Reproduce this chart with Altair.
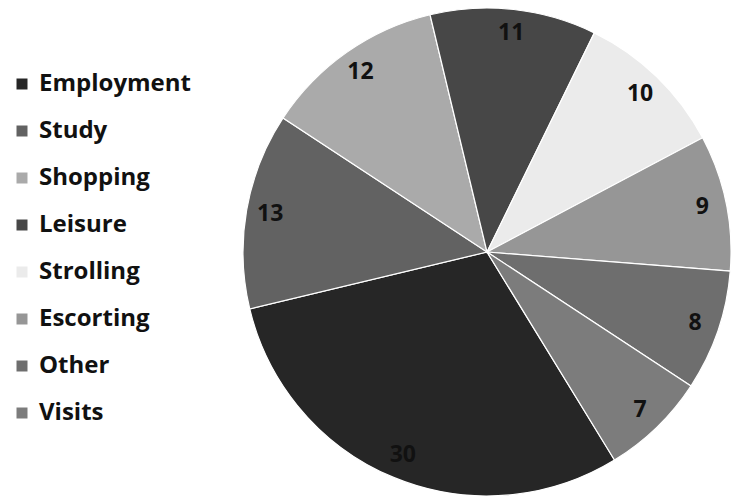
import math
import altair as alt
import pandas as pd

categories = ["Employment", "Study", "Shopping", "Leisure", "Strolling", "Escorting", "Other", "Visits"]
values = [30, 13, 12, 11, 10, 9, 8, 7]
colors = ["#262626", "#626262", "#aaaaaa", "#474747", "#ebebeb", "#969696", "#6e6e6e", "#7c7c7c"]

df = pd.DataFrame({"category": categories, "value": values, "idx": list(range(len(categories)))})

start = math.radians(148.5)
theta_scale = alt.Scale(range=[start, start + 2 * math.pi])

base = alt.Chart(df).encode(
    theta=alt.Theta("value:Q", stack=True, scale=theta_scale),
    order=alt.Order("idx:Q"),
    x=alt.value(487),
    y=alt.value(252),
)

pie = base.mark_arc(radius=244, stroke="white", strokeWidth=1.2).encode(
    color=alt.Color(
        "category:N",
        scale=alt.Scale(domain=categories, range=colors),
        sort=None,
        legend=alt.Legend(
            title=None,
            orient="none",
            legendX=10,
            legendY=72,
            symbolType="square",
            symbolSize=121,
            symbolStrokeWidth=0,
            labelFont="Open Sans",
            labelFontWeight="bold",
            labelFontSize=24,
            labelColor="#111111",
            labelOffset=5,
            rowPadding=23,
            labelLimit=300,
        ),
    )
)

labels = base.mark_text(
    radius=220, font="Open Sans", fontWeight="bold", fontSize=23, color="#111111"
).encode(
    text="value:Q",
    detail="category:N",
)

chart = (
    alt.layer(pie, labels)
    .properties(width=731, height=497, padding=0, autosize=alt.AutoSizeParams(type="none"))
    .configure_view(stroke=None)
)

chart.save("out.html", embed_options={"renderer": "svg", "actions": False})
